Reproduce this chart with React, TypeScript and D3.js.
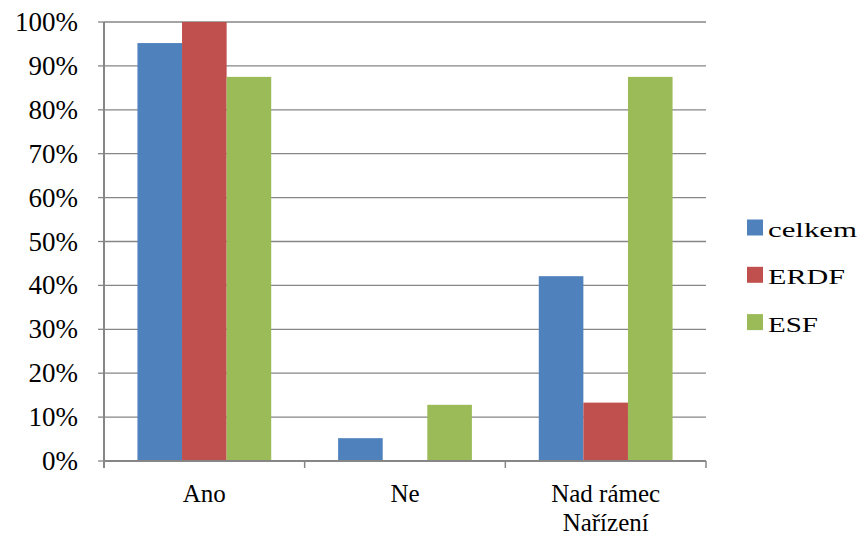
import React from "react";
import * as d3 from "d3";

const categories = ["Ano", "Ne", "Nad rámec Nařízení"];
const categoryLines = [["Ano"], ["Ne"], ["Nad rámec", "Nařízení"]];
const seriesNames = ["celkem", "ERDF", "ESF"];
const celkem = [0.952, 0.052, 0.421];
const erdf = [1.0, 0, 0.133];
const esf = [0.875, 0.128, 0.875];
const colors = ["#4F81BD", "#C0504D", "#9BBB59"];
const yTicks = [0, 0.1, 0.2, 0.3, 0.4, 0.5, 0.6, 0.7, 0.8, 0.9, 1.0];

const FONT = "Liberation Serif";
// rendered widths of legend labels in the reference (style, not data)
const legendTextWidths = [89, 77, 50];

export default function App() {
  const W = 859, H = 535;
  const left = 104, right = 706, top = 22, bottom = 461;
  const series = [celkem, erdf, esf];
  const x0 = d3.scaleBand<string>().domain(categories).range([left, right]).paddingInner(0).paddingOuter(0);
  const x1 = d3.scaleBand<string>().domain(seriesNames).range([0, x0.bandwidth()]).paddingOuter(0.75).paddingInner(0);
  const y = d3.scaleLinear().domain([0, 1]).range([bottom, top]);
  const fmt = d3.format(".0%");
  const grid = "#868686";
  return (
    <svg width={W} height={H} style={{ position: "absolute", left: 0, top: 0 }}>
      <style>{`text { font-family: "Liberation Serif", "Times New Roman", serif; }`}</style>
      <rect width={W} height={H} fill="#fff" />
      {yTicks.map((t) => (
        <g key={t}>
          {t > 0 && <line x1={left} x2={right} y1={y(t)} y2={y(t)} stroke={grid} strokeWidth={1.3} />}
          <line x1={left - 6} x2={left} y1={y(t)} y2={y(t)} stroke={grid} strokeWidth={1.3} />
          <text x={78} y={y(t) + 9} textAnchor="end" fontSize={27} fontFamily={FONT} style={{ fontFamily: FONT }}>{fmt(t)}</text>
        </g>
      ))}
      {categories.map((c, ci) =>
        series.map((s, si) => {
          const v = s[ci];
          if (v <= 0) return null;
          return (
            <rect key={c + si} x={(x0(c) as number) + (x1(seriesNames[si]) as number)} y={y(v)}
              width={x1.bandwidth()} height={bottom - y(v)} fill={colors[si]} />
          );
        })
      )}
      <line x1={left} x2={left} y1={top} y2={bottom + 7} stroke={grid} strokeWidth={2} />
      <line x1={left} x2={right} y1={bottom} y2={bottom} stroke={grid} strokeWidth={2} />
      {categories.map((c) => (
        <line key={"t" + c} x1={(x0(c) as number) + x0.bandwidth()} x2={(x0(c) as number) + x0.bandwidth()}
          y1={bottom} y2={bottom + 7} stroke={grid} strokeWidth={1.5} />
      ))}
      {categories.map((c, i) =>
        categoryLines[i].map((ln, li) => (
          <text key={"l" + c + li} x={(x0(c) as number) + x0.bandwidth() / 2} y={502 + li * 28.5}
            textAnchor="middle" fontSize={25} fontFamily={FONT} style={{ fontFamily: FONT }}>{ln}</text>
        ))
      )}
      {seriesNames.map((n, i) => (
        <g key={n} transform={`translate(747, ${219.5 + i * 47.3})`}>
          <rect width={16} height={16} fill={colors[i]} />
          <text x={21} y={17.5} fontSize={22} textLength={legendTextWidths[i]} lengthAdjust="spacingAndGlyphs"
            fontFamily={FONT} style={{ fontFamily: FONT }}>{n}</text>
        </g>
      ))}
    </svg>
  );
}
